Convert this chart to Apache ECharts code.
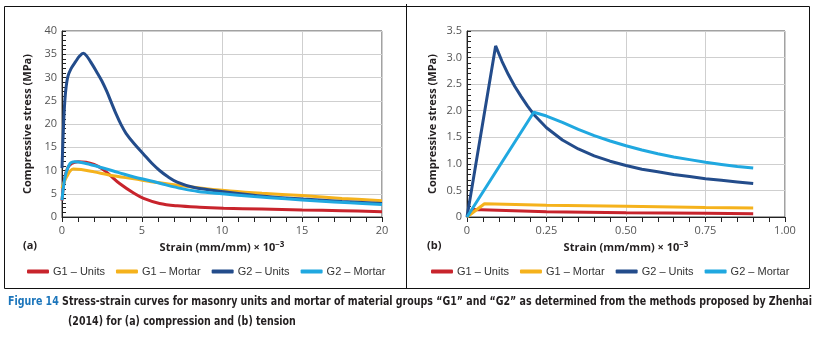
<!DOCTYPE html>
<html>
<head>
<meta charset="utf-8">
<script src="https://cdn.jsdelivr.net/npm/echarts@6/dist/echarts.min.js"></script>
<style>
  html, body { margin: 0; padding: 0; background: #fff; }
  #main { width: 817px; height: 339px; }
</style>
</head>
<body>
<div id="main"></div>
<script>
// series names
var names = ['G1 – Units', 'G1 – Mortar', 'G2 – Units', 'G2 – Mortar'];
var colors = ['#c8242c', '#f5b21c', '#234c8b', '#20a8e0'];

// (a) compression, strain x10^-3 vs stress MPa
var g1UnitsComp = [[0, 3.5], [0.15, 8], [0.35, 10.5], [0.6, 11.5], [1.0, 11.9], [1.5, 11.8], [2.0, 11.3],
  [2.5, 10.4], [3.0, 9.0], [3.6, 7.2], [4.5, 5.1], [5.1, 4.0], [6.1, 2.9], [7.2, 2.4], [8.6, 2.1],
  [10.1, 1.9], [12.5, 1.7], [15, 1.5], [17.5, 1.35], [20, 1.15]];
var g1MortarComp = [[0, 6.2], [0.3, 8.7], [0.7, 10.3], [1.2, 10.2], [2.0, 9.7], [3.0, 9.0], [4.5, 8.2],
  [6.0, 7.4], [7.5, 6.7], [9.0, 6.1], [10.5, 5.6], [12.5, 5.1], [15, 4.6], [17.5, 4.0], [20, 3.5]];
var g2UnitsComp = [[0, 10.5], [0.1, 20], [0.2, 26], [0.35, 30], [0.55, 31.8], [0.85, 33.4], [1.1, 34.6], [1.33, 35.2],
  [1.55, 34.6], [1.8, 33.3], [2.17, 31.2], [2.5, 29.2], [2.8, 27], [3.1, 24.5], [3.4, 22], [3.7, 19.8], [4.0, 18],
  [4.5, 15.8], [5.1, 13.5], [5.6, 11.6], [6.1, 10], [6.6, 8.7], [7.2, 7.5], [8.2, 6.4],
  [10.1, 5.45], [12.8, 4.4], [15.1, 3.85], [17.5, 3.35], [20, 2.9]];
var g2MortarComp = [[0, 3.6], [0.2, 8.7], [0.5, 11.5], [0.8, 11.9], [1.5, 11.5], [2.5, 10.6], [3.5, 9.6],
  [4.5, 8.6], [5.5, 7.8], [6.5, 6.9], [7.5, 6.1], [8.5, 5.5], [10, 5.0], [12, 4.4], [14, 3.9],
  [16, 3.45], [18, 3.05], [20, 2.7]];

// (b) tension
var g1UnitsTens = [[0, 0], [0.02, 0.14], [0.25, 0.1], [0.5, 0.08], [0.75, 0.07], [0.9, 0.06]];
var g1MortarTens = [[0, 0], [0.055, 0.25], [0.25, 0.22], [0.5, 0.2], [0.75, 0.18], [0.9, 0.17]];
var g2UnitsTens = [[0, 0], [0.09, 3.22], [0.11, 2.93], [0.13, 2.68], [0.15, 2.46], [0.17, 2.27], [0.19, 2.09],
  [0.21, 1.93], [0.25, 1.68], [0.3, 1.45], [0.35, 1.28], [0.4, 1.15], [0.45, 1.05], [0.5, 0.97], [0.55, 0.9],
  [0.6, 0.85], [0.65, 0.8], [0.7, 0.76], [0.75, 0.72], [0.8, 0.69], [0.85, 0.66], [0.9, 0.63]];
var g2MortarTens = [[0, 0], [0.21, 1.97], [0.25, 1.9], [0.3, 1.78], [0.35, 1.65], [0.4, 1.53], [0.45, 1.43],
  [0.5, 1.34], [0.55, 1.26], [0.6, 1.19], [0.65, 1.13], [0.7, 1.08], [0.75, 1.03], [0.8, 0.99],
  [0.85, 0.95], [0.9, 0.92]];

var compData = [g1UnitsComp, g1MortarComp, g2UnitsComp, g2MortarComp];
var tensData = [g1UnitsTens, g1MortarTens, g2UnitsTens, g2MortarTens];

var axisFont = 'Open Sans, Noto Sans, sans-serif';
var legendFont = 'Liberation Sans, Arial, sans-serif';
var labelColor = '#555';

function xAxisOf(idx, min, max, interval, fmt) {
  return {
    type: 'value', gridIndex: idx, min: min, max: max, interval: interval,
    name: 'Strain (mm/mm) × 10{sup|−3}', nameLocation: 'middle', nameGap: 24,
    nameTextStyle: {
      fontFamily: axisFont, fontWeight: 'bold', fontSize: 11, color: '#231f20',
      rich: { sup: { fontSize: 8, fontWeight: 'bold', verticalAlign: 'top', padding: [0, 0, 6, 0], color: '#231f20' } }
    },
    axisLine: { lineStyle: { color: '#222', width: 1 } },
    axisTick: { show: true, inside: false, length: 5, lineStyle: { color: '#222' } },
    minorTick: { show: true, splitNumber: 5, length: 5, lineStyle: { color: '#222' } },
    splitLine: { show: true, lineStyle: { color: '#cfcfcf' } },
    axisLabel: { fontFamily: axisFont, fontSize: 11, color: labelColor, margin: 8, formatter: fmt }
  };
}

function yAxisOf(idx, min, max, interval, fmt) {
  return {
    type: 'value', gridIndex: idx, min: min, max: max, interval: interval,
    name: 'Compressive stress (MPa)', nameLocation: 'middle', nameGap: 29,
    nameTextStyle: { fontFamily: axisFont, fontWeight: 'bold', fontSize: 11, color: '#231f20' },
    axisLine: { show: true, lineStyle: { color: '#222', width: 1 } },
    axisTick: { show: true, inside: true, length: 4, lineStyle: { color: '#222' } },
    minorTick: { show: true, splitNumber: 5, length: 4, lineStyle: { color: '#222' } },
    splitLine: { show: true, lineStyle: { color: '#cfcfcf' } },
    axisLabel: { fontFamily: axisFont, fontSize: 11, color: labelColor, margin: 5, formatter: fmt }
  };
}

var series = [];
names.forEach(function (n, i) {
  series.push({
    name: n, type: 'line', xAxisIndex: 0, yAxisIndex: 0, data: compData[i],
    smooth: 0.35, showSymbol: false, symbol: 'none', lineStyle: { width: 3, color: colors[i] },
    itemStyle: { color: colors[i] }, z: i === 3 ? 5 : 3
  });
});
names.forEach(function (n, i) {
  series.push({
    name: n, type: 'line', xAxisIndex: 1, yAxisIndex: 1, data: tensData[i],
    smooth: false, showSymbol: false, symbol: 'none', lineStyle: { width: 3, color: colors[i] },
    itemStyle: { color: colors[i] }, z: 3
  });
});

function legendOf(left) {
  return {
    left: left, top: 261, itemWidth: 22, itemHeight: 4, itemGap: 11, icon: 'roundRect',
    width: 400, orient: 'horizontal',
    data: names, selectedMode: false,
    textStyle: { fontFamily: legendFont, fontSize: 11, color: '#333', padding: [0, 0, 0, -1] }
  };
}

// caption text
var capLine1a = 'Figure 14';
var capLine1b = ' Stress-strain curves for masonry units and mortar of material groups “G1” and “G2” as determined from the methods proposed by Zhenhai';
var capLine2 = '(2014) for (a) compression and (b) tension';
var capFont = 'bold 13px "Liberation Sans Narrow", "DejaVu Sans Condensed", "Noto Sans", sans-serif';

var ctx = document.createElement('canvas').getContext('2d');
ctx.font = capFont;
var wA = ctx.measureText(capLine1a).width;
var wB = ctx.measureText(capLine1b).width;
var capScale = 804 / (wA + wB);

var myChart = echarts.init(document.getElementById('main'));
option = {
  animation: false,
  grid: [
    { left: 62, top: 31, width: 320, height: 186, show: true, borderColor: '#444', borderWidth: 1, backgroundColor: 'transparent' },
    { left: 467, top: 31, width: 318, height: 186, show: true, borderColor: '#444', borderWidth: 1, backgroundColor: 'transparent' }
  ],
  xAxis: [
    xAxisOf(0, 0, 20, 5, function (v) { return String(v); }),
    xAxisOf(1, 0, 1, 0.25, function (v) { return v === 0 ? '0' : v.toFixed(2); })
  ],
  yAxis: [
    yAxisOf(0, 0, 40, 5, function (v) { return String(v); }),
    yAxisOf(1, 0, 3.5, 0.5, function (v) { return v === 0 ? '0' : v.toFixed(1); })
  ],
  legend: [legendOf(22), legendOf(426)],
  series: series,
  graphic: [
    { type: 'rect', shape: { x: 4.5, y: 6.5, width: 805, height: 282 }, style: { fill: 'none', stroke: '#111', lineWidth: 1 }, silent: true },
    { type: 'line', shape: { x1: 406.5, y1: 4, x2: 406.5, y2: 288.5 }, style: { stroke: '#111', lineWidth: 1 }, silent: true },
    { type: 'text', left: 23, top: 240, style: { text: '(a)', font: 'bold 11px "Open Sans", sans-serif', fill: '#231f20' } },
    { type: 'text', left: 427, top: 240, style: { text: '(b)', font: 'bold 11px "Open Sans", sans-serif', fill: '#231f20' } },
    { type: 'group', x: 8, y: 295, scaleX: capScale, children: [
      { type: 'text', x: 0, y: 0, style: { text: capLine1a, font: capFont, fill: '#1b75bb' } },
      { type: 'text', x: wA, y: 0, style: { text: capLine1b, font: capFont, fill: '#231f20' } },
      { type: 'text', x: 60 / capScale, y: 20, style: { text: capLine2, font: capFont, fill: '#231f20' } }
    ] }
  ]
};
myChart.setOption(option);
</script>
</body>
</html>
